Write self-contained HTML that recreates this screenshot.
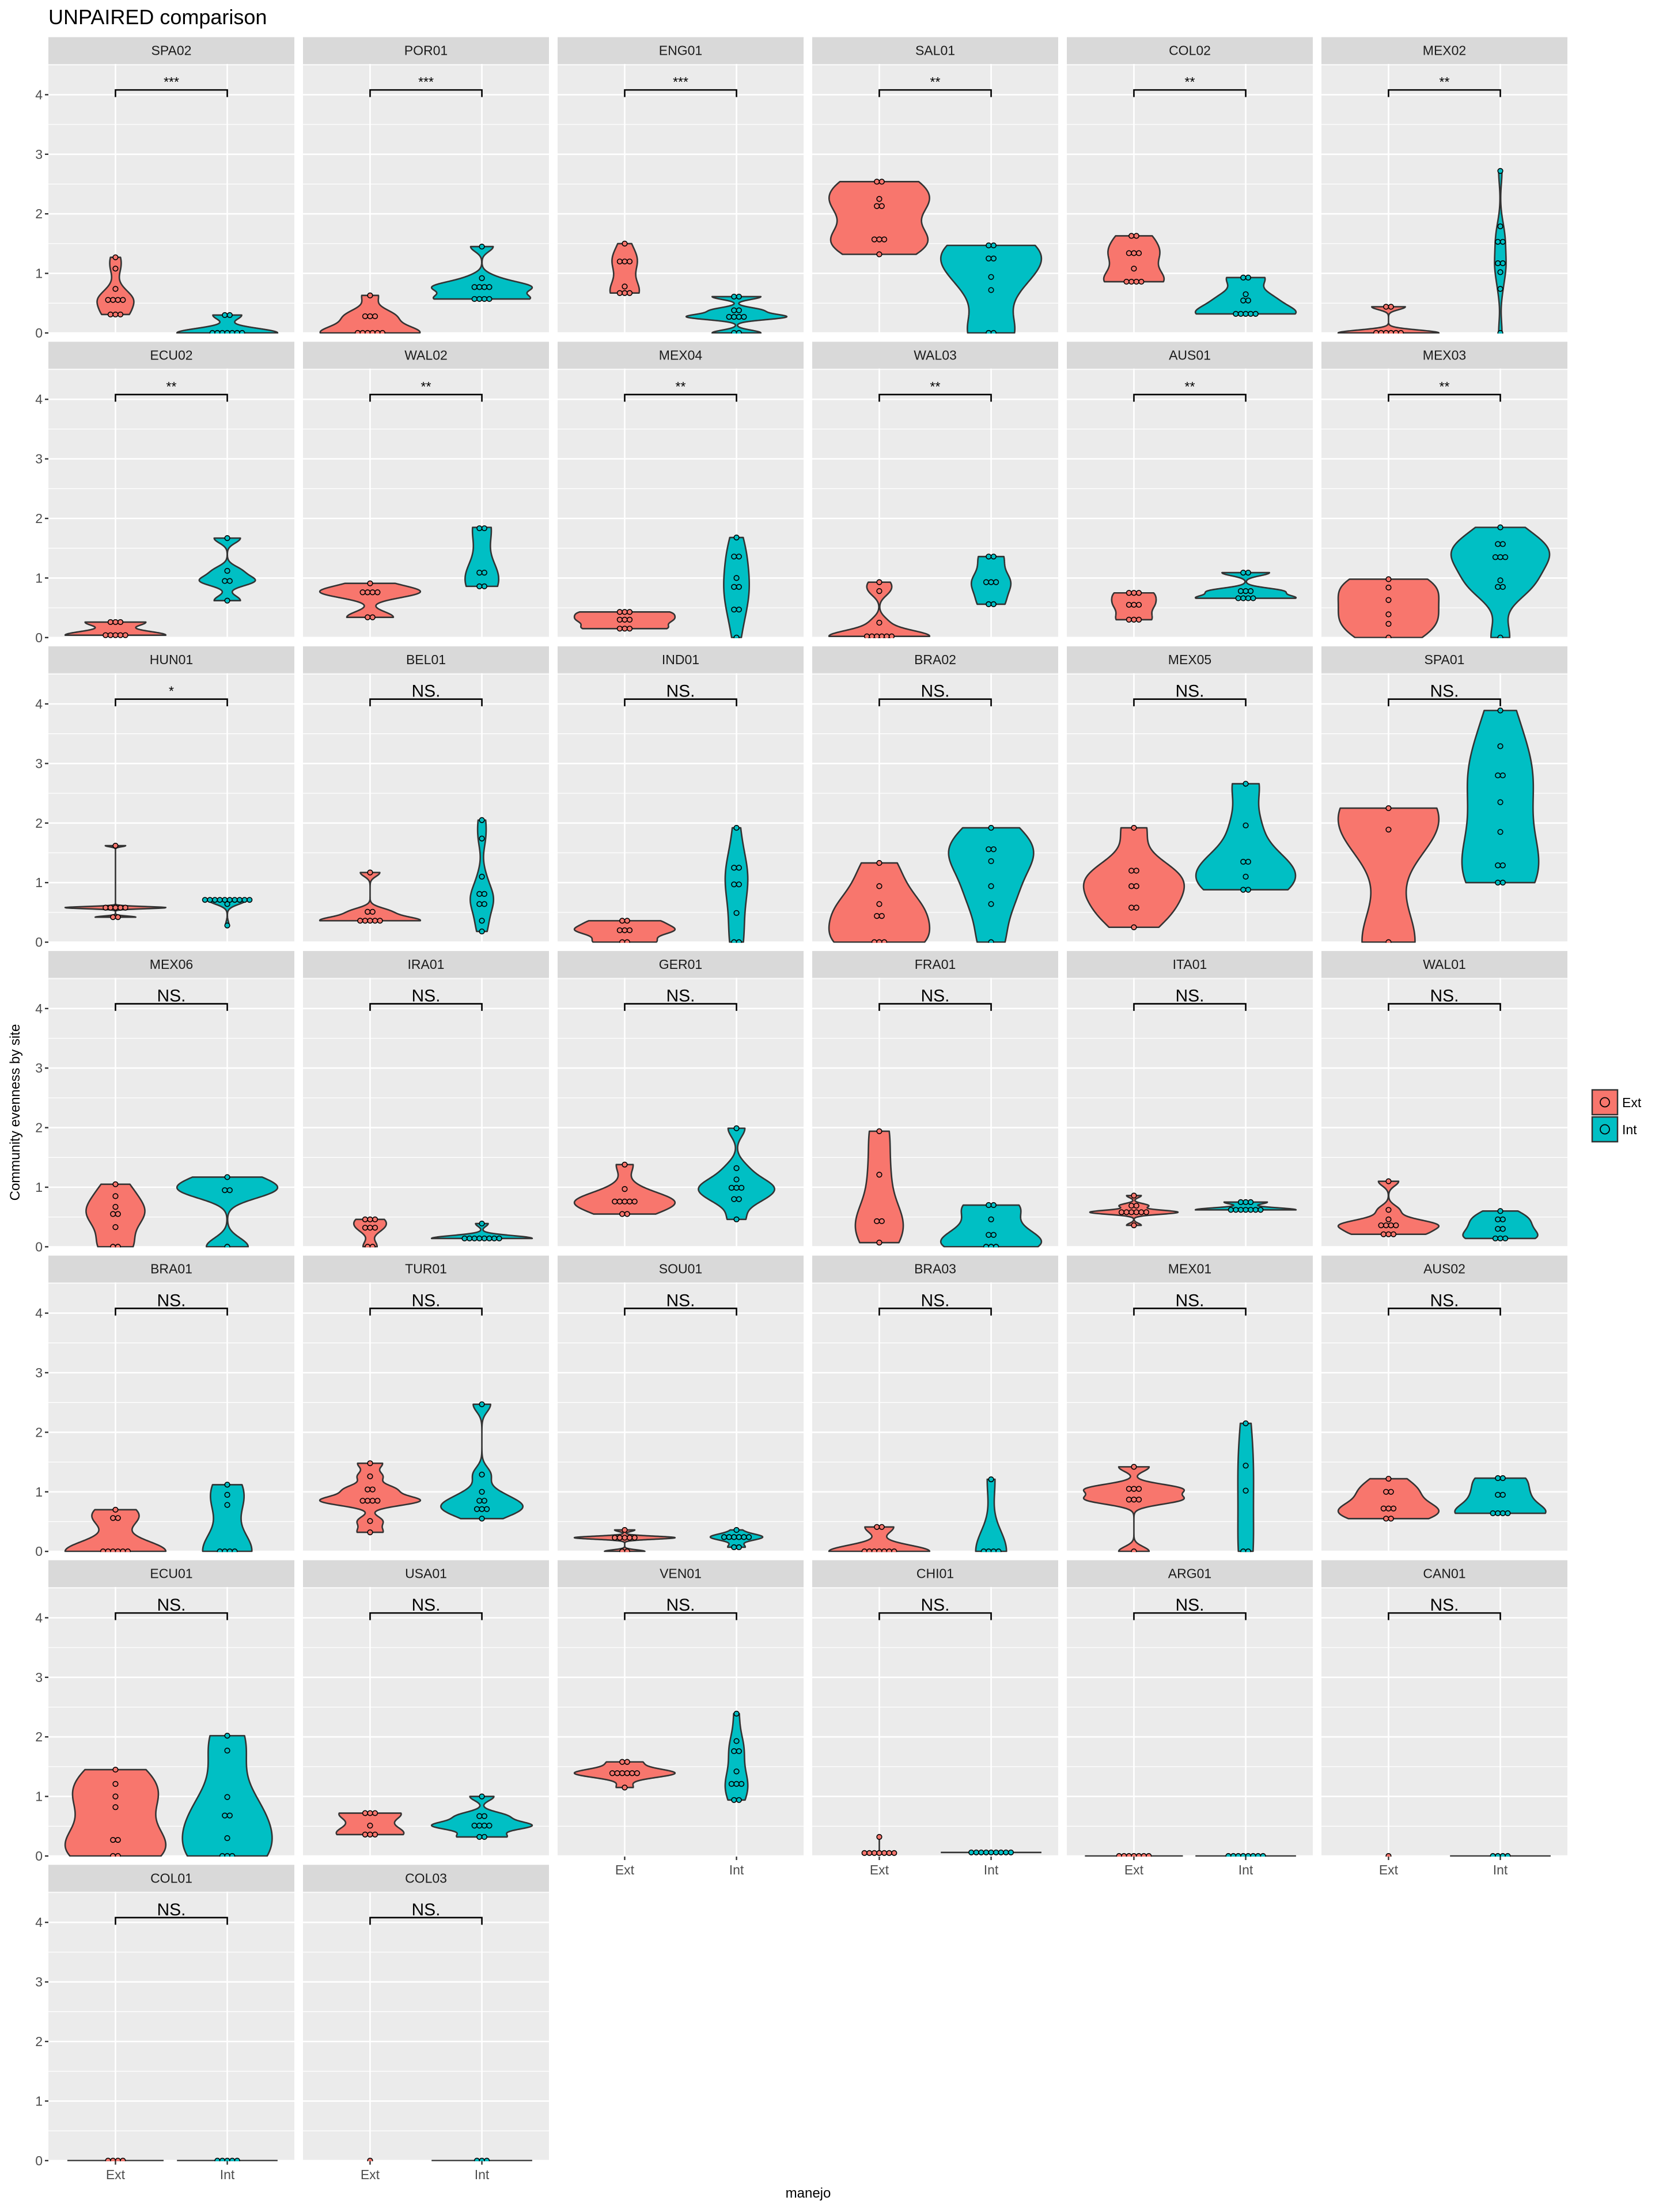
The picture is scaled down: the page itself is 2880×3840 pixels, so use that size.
<!DOCTYPE html>
<html><head><meta charset="utf-8"><style>
html,body{margin:0;padding:0;background:#fff}
svg{display:block;font-family:"Liberation Sans",Arial,sans-serif}
</style></head><body>
<svg id="chart" xmlns="http://www.w3.org/2000/svg" width="2880" height="3840" viewBox="0 0 2880 3840">
<rect x="0" y="0" width="2880" height="3840" fill="#ffffff"/>
<text x="84" y="42" font-size="36" fill="#000">UNPAIRED comparison</text>
<text transform="translate(34,1931) rotate(-90)" text-anchor="middle" font-size="24" fill="#000">Community evenness by site</text>
<text x="1403" y="3815" text-anchor="middle" font-size="24" fill="#000">manejo</text>
<g>
<rect x="2764" y="1892" width="44" height="43" fill="#F8766D" stroke="#333" stroke-width="2.5"/>
<circle cx="2786" cy="1913.5" r="8" fill="none" stroke="#000" stroke-width="1.8"/>
<text x="2816" y="1922" font-size="23" fill="#000">Ext</text>
<rect x="2764" y="1939" width="44" height="43" fill="#00BFC4" stroke="#333" stroke-width="2.5"/>
<circle cx="2786" cy="1960.5" r="8" fill="none" stroke="#000" stroke-width="1.8"/>
<text x="2816" y="1969" font-size="23" fill="#000">Int</text>
</g>
<g id="panels"></g>
</svg>
<script>
const sites = ["SPA02","POR01","ENG01","SAL01","COL02","MEX02","ECU02","WAL02","MEX04","WAL03","AUS01","MEX03","HUN01","BEL01","IND01","BRA02","MEX05","SPA01","MEX06","IRA01","GER01","FRA01","ITA01","WAL01","BRA01","TUR01","SOU01","BRA03","MEX01","AUS02","ECU01","USA01","VEN01","CHI01","ARG01","CAN01","COL01","COL03"];
const signif = ["***","***","***","**","**","**","**","**","**","**","**","**","*","NS.","NS.","NS.","NS.","NS.","NS.","NS.","NS.","NS.","NS.","NS.","NS.","NS.","NS.","NS.","NS.","NS.","NS.","NS.","NS.","NS.","NS.","NS.","NS.","NS."];
const extValues = [
[1.27,1.08,0.74,0.555,0.555,0.555,0.555,0.31,0.31,0.31],
[0.63,0.28,0.28,0.28,0,0,0,0,0,0],
[1.5,1.2,1.2,1.2,0.78,0.67,0.67,0.67],
[2.54,2.54,2.25,2.13,2.13,1.57,1.57,1.57,1.32],
[1.63,1.63,1.34,1.34,1.34,1.08,0.86,0.86,0.86,0.86],
[0.44,0.44,0,0,0,0,0,0],
[0.26,0.26,0.26,0.04,0.04,0.04,0.04,0.04],
[0.91,0.76,0.76,0.76,0.76,0.34,0.34],
[0.43,0.43,0.43,0.3,0.3,0.3,0.15,0.15,0.15],
[0.93,0.78,0.25,0.02,0.02,0.02,0.02,0.02,0.02],
[0.75,0.75,0.75,0.55,0.55,0.55,0.3,0.3,0.3],
[0.98,0.84,0.63,0.39,0.23,0],
[1.62,0.58,0.58,0.58,0.58,0.58,0.42,0.42],
[1.17,0.51,0.51,0.36,0.36,0.36,0.36,0.36],
[0.36,0.36,0.2,0.2,0.2,0,0],
[1.33,0.94,0.64,0.44,0.44,0,0,0],
[1.92,1.2,1.2,0.94,0.94,0.58,0.58,0.25],
[2.25,1.89,0],
[1.05,0.85,0.67,0.55,0.55,0.33,0,0],
[0.46,0.46,0.46,0.32,0.32,0.32,0,0],
[1.38,0.97,0.76,0.76,0.76,0.76,0.76,0.55,0.55],
[1.94,1.21,0.43,0.43,0.07],
[0.86,0.69,0.69,0.58,0.58,0.58,0.58,0.58,0.58,0.36],
[1.1,0.62,0.46,0.36,0.36,0.36,0.36,0.21,0.21,0.21],
[0.7,0.56,0.56,0,0,0,0,0,0],
[1.48,1.26,1.04,1.04,0.85,0.85,0.85,0.85,0.51,0.32],
[0.36,0.23,0.23,0.23,0.23,0.23,0,0],
[0.41,0.41,0,0,0,0,0,0,0],
[1.42,1.05,1.05,1.05,0.87,0.87,0.87,0],
[1.22,1.0,1.0,0.72,0.72,0.72,0.55,0.55],
[1.45,1.21,1.0,0.82,0.27,0.27,0,0],
[0.72,0.72,0.72,0.51,0.36,0.36,0.36],
[1.58,1.58,1.39,1.39,1.39,1.39,1.39,1.39,1.15],
[0.32,0.05,0.05,0.05,0.05,0.05,0.05,0.05],
[0,0,0,0,0,0,0],
[0],
[0,0,0,0],
[0]
];
const intValues = [
[0.3,0.3,0,0,0,0,0,0,0],
[1.45,0.92,0.77,0.77,0.77,0.77,0.57,0.57,0.57,0.57],
[0.61,0.61,0.38,0.38,0.27,0.27,0.27,0.27,0,0],
[1.47,1.47,1.25,1.25,0.94,0.72,0,0],
[0.93,0.93,0.65,0.545,0.545,0.32,0.32,0.32,0.32,0.32],
[2.72,1.79,1.53,1.53,1.17,1.17,1.02,0.74,0],
[1.67,1.12,0.95,0.95,0.62],
[1.85,1.82,1.1,1.08,0.86,0.86],
[1.68,1.36,1.36,1.0,0.85,0.85,0.47,0.47,0],
[1.36,1.36,0.93,0.93,0.93,0.56,0.56],
[1.09,1.09,0.78,0.78,0.78,0.66,0.66,0.66,0.66],
[1.85,1.57,1.57,1.35,1.35,1.35,0.96,0.85,0.85,0],
[0.71,0.71,0.71,0.71,0.71,0.71,0.71,0.71,0.71,0.71,0.64,0.28],
[2.05,1.74,1.1,0.81,0.81,0.64,0.64,0.36,0.18],
[1.92,1.25,1.25,0.97,0.97,0.49,0,0],
[1.92,1.56,1.56,1.36,0.94,0.64,0],
[2.66,1.96,1.35,1.35,1.1,0.88,0.88],
[3.89,3.29,2.8,2.8,2.35,1.85,1.29,1.29,1.0,1.0],
[1.17,0.95,0.95,0],
[0.39,0.14,0.14,0.14,0.14,0.14,0.14,0.14,0.14],
[1.99,1.32,1.13,0.99,0.99,0.99,0.8,0.8,0.46],
[0.7,0.7,0.46,0.2,0.2,0,0,0],
[0.75,0.75,0.75,0.62,0.62,0.62,0.62,0.62,0.62,0.62],
[0.6,0.46,0.46,0.3,0.3,0.14,0.14,0.14],
[1.12,0.95,0.78,0,0,0,0],
[2.47,1.29,1.0,0.85,0.85,0.71,0.71,0.71,0.55],
[0.36,0.24,0.24,0.24,0.24,0.24,0.24,0.07,0.07],
[1.21,0,0,0,0],
[2.15,1.44,1.02,0,0],
[1.23,1.23,0.95,0.95,0.64,0.64,0.64,0.64],
[2.02,1.77,0.99,0.68,0.68,0.3,0,0,0],
[1.0,0.67,0.67,0.51,0.51,0.51,0.51,0.32,0.32],
[2.39,1.93,1.76,1.76,1.42,1.21,1.21,1.21,0.94,0.94],
[0.06,0.06,0.06,0.06,0.06,0.06,0.06,0.06,0.06],
[0,0,0,0,0,0,0,0],
[0,0,0,0],
[0,0,0,0,0],
[0,0,0]
];
const yTicks = [0,1,2,3,4];
const yMinor = [0.5,1.5,2.5,3.5,4.5];
const groupLabels = ["Ext","Int"];

const NS = "http://www.w3.org/2000/svg";
const panelsG = document.getElementById('panels');
const defs = document.createElementNS(NS,'defs');
document.getElementById('chart').appendChild(defs);
const PW = 427, PITCHX = 442, X0 = 84, PITCHY = 528.8, Y0 = 64.5, STRIP = 46.5, ZOFF = 513.5, UNIT = 103.4;
const COLORS = ["#F8766D","#00BFC4"];
const xUnit = PW/2.2;
function mk(tag, attrs, parent){const e=document.createElementNS(NS,tag);for(const k in attrs)e.setAttribute(k,attrs[k]);parent.appendChild(e);return e;}
function sd(a){const m=a.reduce((s,v)=>s+v,0)/a.length;return Math.sqrt(a.reduce((s,v)=>s+(v-m)*(v-m),0)/(a.length-1));}
function quant(s,p){const h=(s.length-1)*p;const lo=Math.floor(h);const hi=Math.ceil(h);return s[lo]+(h-lo)*(s[hi]-s[lo]);}
function bwNrd0(a){const hi=sd(a);const s=[...a].sort((x,y)=>x-y);let lo=Math.min(hi,(quant(s,0.75)-quant(s,0.25))/1.34);if(!(lo>0)){lo=hi||Math.abs(a[0])||1;}return 0.9*lo*Math.pow(a.length,-0.2);}
function kde(a){const bw=bwNrd0(a);const mn=Math.min(...a),mx=Math.max(...a);const pts=[];const N=200;for(let i=0;i<=N;i++){const y=mn+(mx-mn)*i/N;let d=0;for(const v of a){const z=(y-v)/bw;d+=Math.exp(-0.5*z*z);}d/=(a.length*bw*Math.sqrt(2*Math.PI));pts.push([y,d]);}return pts;}
function dotBins(a,bw){const s=[...a].sort((x,y)=>x-y);const bins=[];let i=0;while(i<s.length){const st=s[i];const b=[];while(i<s.length&&s[i]<=st+bw+1e-9){b.push(s[i]);i++;}bins.push({c:(b[0]+b[b.length-1])/2,n:b.length});}return bins;}

sites.forEach((site, i) => {
  const r = Math.floor(i/6), c = i%6;
  const px = X0 + c*PITCHX;
  const st = Y0 + r*PITCHY;
  const top = st + STRIP;
  const zero = st + ZOFF;
  const bot = zero + 1;
  const yS = v => zero - v*UNIT;
  const xS = g => px + xUnit*(0.6 + g);
  const g = mk('g',{},panelsG);
  
  
  const bg = mk('rect',{x:px,y:top,width:PW,height:bot-top,fill:'#EBEBEB'},g);
  
  
  yMinor.forEach(v => { const y=yS(v); if(y>top){ const l=mk('line',{x1:px,x2:px+PW,y1:y,y2:y,stroke:'#fff','stroke-width':1.3},g);   }});
  yTicks.forEach(v => { const y=yS(v); const l=mk('line',{x1:px,x2:px+PW,y1:y,y2:y,stroke:'#fff','stroke-width':2.6},g);   });
  [0,1].forEach(k => { const l=mk('line',{x1:xS(k),x2:xS(k),y1:top,y2:bot,stroke:'#fff','stroke-width':2.6},g);   });
  const strip = mk('rect',{x:px,y:st,width:PW,height:STRIP,fill:'#D9D9D9'},g);
  
  
  const stt = mk('text',{x:px+PW/2,y:st+31,'text-anchor':'middle','font-size':23,fill:'#1a1a1a'},g);
  stt.textContent = site;
  
  
  const cp = mk('clipPath',{id:'cp'+i},defs);
  mk('rect',{x:px,y:top,width:PW,height:bot-top},cp);
  const clipG = mk('g',{'clip-path':'url(#cp'+i+')'},g);
  const groups = [extValues[i], intValues[i]];
  const dens = groups.map(a => a.length>=2 ? kde(a) : null);
  let maxD = 0; dens.forEach(d => { if(d) d.forEach(p => { if(p[1]>maxD) maxD=p[1]; }); });
  groups.forEach((a, k) => {
    const d = dens[k]; const cx = xS(k);
    if (d) {
      const mn=Math.min(...a), mx=Math.max(...a);
      let path;
      if (mx - mn < 1e-9) {
        const hw = 0.45*xUnit*(d[0][1]/maxD);
        path = 'M'+(cx-hw)+','+yS(mn)+'L'+(cx+hw)+','+yS(mn);
      } else {
        const left = d.map(p => (cx - 0.45*xUnit*p[1]/maxD).toFixed(2)+','+yS(p[0]).toFixed(2));
        const right = d.slice().reverse().map(p => (cx + 0.45*xUnit*p[1]/maxD).toFixed(2)+','+yS(p[0]).toFixed(2));
        path = 'M'+left.join('L')+'L'+right.join('L')+'Z';
      }
      const v = mk('path',{d:path,fill:COLORS[k],stroke:'#333','stroke-width':2.6,'stroke-linejoin':'round'},clipG);
      
      
    }
    const bins = dotBins(a, 0.06);
    const dr = 4.3, sp = 8.6;
    bins.forEach(b => {
      for (let j=0;j<b.n;j++){
        const dx = (j - (b.n-1)/2)*sp;
        const dot = mk('circle',{cx:cx+dx,cy:yS(b.c),r:dr,fill:COLORS[k],stroke:'#000','stroke-width':1.6},clipG);
        
        
      }
    });
  });
  const by = yS(4.08), by2 = yS(3.96);
  const br = mk('path',{d:'M'+xS(0)+','+by2+'L'+xS(0)+','+by+'L'+xS(1)+','+by+'L'+xS(1)+','+by2,fill:'none',stroke:'#000','stroke-width':2.6},g);
  
  
  const isNS = signif[i] === 'NS.';
  const sl = mk('text',{x:px+PW/2,y:isNS?by-4:by-6,'text-anchor':'middle','font-size':isNS?30:23,fill:'#000'},g);
  sl.textContent = signif[i];
  
  
  if (c === 0) {
    yTicks.forEach(v => {
      const y = yS(v);
      const tk = mk('line',{x1:px-6,x2:px,y1:y,y2:y,stroke:'#333','stroke-width':2.4},g);
      
      
      const tl = mk('text',{x:px-10,y:y+8,'text-anchor':'end','font-size':23,fill:'#4d4d4d'},g);
      tl.textContent = String(v);
      
      
    });
  }
  if (i + 6 >= sites.length) {
    [0,1].forEach(k => {
      const tk = mk('line',{x1:xS(k),x2:xS(k),y1:bot,y2:bot+6,stroke:'#333','stroke-width':2.4},g);
      
      
      const tl = mk('text',{x:xS(k),y:bot+31,'text-anchor':'middle','font-size':23,fill:'#4d4d4d'},g);
      tl.textContent = groupLabels[k];
      
      
    });
  }
});
</script>
</body></html>
